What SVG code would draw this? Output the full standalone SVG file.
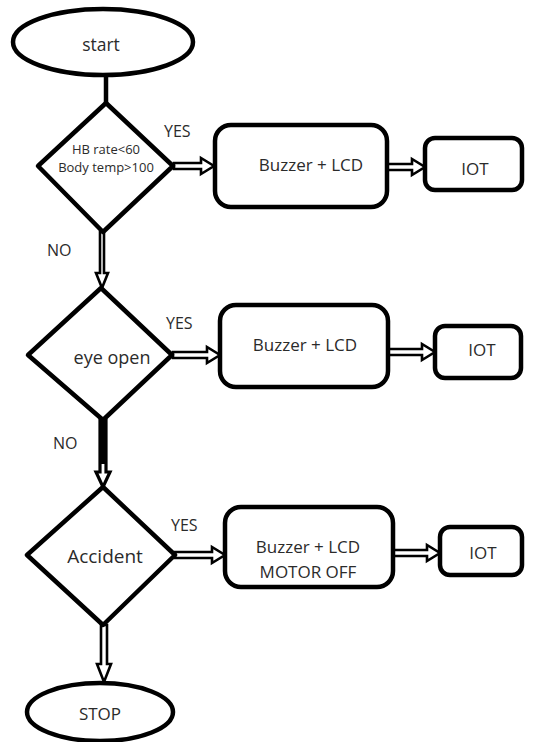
<svg xmlns="http://www.w3.org/2000/svg" width="533" height="742" viewBox="0 0 533 742">
  <style>
    .shape { fill: #ffffff; stroke: #000000; stroke-width: 4.5; stroke-linejoin: round; }
    .arrow { fill: #ffffff; stroke: #000000; stroke-width: 2.6; stroke-linejoin: miter; }
    .line { fill: none; stroke: #000000; stroke-width: 4.5; }
    .t { font-family: "Open Sans", "Liberation Sans", sans-serif; fill: #2b2b2b; text-anchor: middle; dominant-baseline: central; }
    .lbl { font-family: "Open Sans", "Liberation Sans", sans-serif; fill: #2b2b2b; font-size: 16px; }
  </style>

  <rect width="533" height="742" fill="#ffffff"/>

  <!-- connectors -->
  <g id="connectors">
    <line class="line" x1="106" y1="74" x2="106" y2="104"/>
    <!-- YES arrows to the first action boxes -->
    <polygon class="arrow" points="174,163 201,163 201,158 214,166 201,174 201,169 174,169"/>
    <polygon class="arrow" points="173,352 207,352 207,347 220,355 207,363 207,358 173,358"/>
    <polygon class="arrow" points="175,552 212,552 212,547 225,555 212,563 212,558 175,558"/>
    <!-- action box to IOT -->
    <polygon class="arrow" points="387,164 412,164 412,159 425,167 412,175 412,170 387,170"/>
    <polygon class="arrow" points="388,349 422,349 422,344 435,352 422,360 422,355 388,355"/>
    <polygon class="arrow" points="393,550 427,550 427,545 440,553 427,561 427,556 393,556"/>
    <!-- NO arrows down the main path -->
    <polygon class="arrow" points="100,232 100,273 96,273 102,288 108,273 104,273 104,232"/>
    <polygon class="arrow" points="100,420 100,472 96,472 103,487 110,472 106,472 106,420" style="stroke-width:3.2"/>
    <rect x="100" y="420" width="6" height="44" fill="#000000"/>
    <polygon class="arrow" points="101,625 101,664 97,664 104,682 111,664 107,664 107,625"/>
  </g>

  <!-- branch labels -->
  <g id="labels">
    <text class="lbl" x="164" y="137">YES</text>
    <text class="lbl" x="47" y="256">NO</text>
    <text class="lbl" x="166" y="329">YES</text>
    <text class="lbl" x="53" y="449">NO</text>
    <text class="lbl" x="171" y="531">YES</text>
  </g>

  <g id="start">
    <ellipse class="shape" cx="103" cy="42" rx="90" ry="33"/>
    <text class="t" x="101" y="44" font-size="17.5">start</text>
  </g>

  <g id="check-vitals">
    <polygon class="shape" points="106,103 173,166 103,232 38,166"/>
    <text class="t" x="106" y="149" font-size="13">HB rate&lt;60</text>
    <text class="t" x="106" y="167" font-size="13">Body temp&gt;100</text>
  </g>

  <g id="alert-1">
    <rect class="shape" x="215" y="125" width="172" height="82" rx="16"/>
    <text class="t" x="311" y="164" font-size="17">Buzzer + LCD</text>
  </g>

  <g id="iot-1">
    <rect class="shape" x="425" y="138" width="97" height="52" rx="10"/>
    <text class="t" x="475" y="168" font-size="17">IOT</text>
  </g>

  <g id="check-eye">
    <polygon class="shape" points="101,288 172,355 103,420 28,355"/>
    <text class="t" x="112" y="357" font-size="18">eye open</text>
  </g>

  <g id="alert-2">
    <rect class="shape" x="220" y="305" width="168" height="82" rx="16"/>
    <text class="t" x="305" y="344" font-size="17">Buzzer + LCD</text>
  </g>

  <g id="iot-2">
    <rect class="shape" x="435" y="326" width="86" height="52" rx="10"/>
    <text class="t" x="482" y="349" font-size="17">IOT</text>
  </g>

  <g id="check-accident">
    <polygon class="shape" points="103,487 175,555 103,625 27,555"/>
    <text class="t" x="105" y="556" font-size="19">Accident</text>
  </g>

  <g id="alert-3">
    <rect class="shape" x="225" y="507" width="168" height="80" rx="16"/>
    <text class="t" x="308" y="546" font-size="17">Buzzer + LCD</text>
    <text class="t" x="308" y="571" font-size="17">MOTOR OFF</text>
  </g>

  <g id="iot-3">
    <rect class="shape" x="440" y="527" width="82" height="48" rx="10"/>
    <text class="t" x="483" y="552" font-size="17">IOT</text>
  </g>

  <g id="stop">
    <ellipse class="shape" cx="100" cy="712" rx="73" ry="29"/>
    <text class="t" x="100" y="713" font-size="17">STOP</text>
  </g>
</svg>
